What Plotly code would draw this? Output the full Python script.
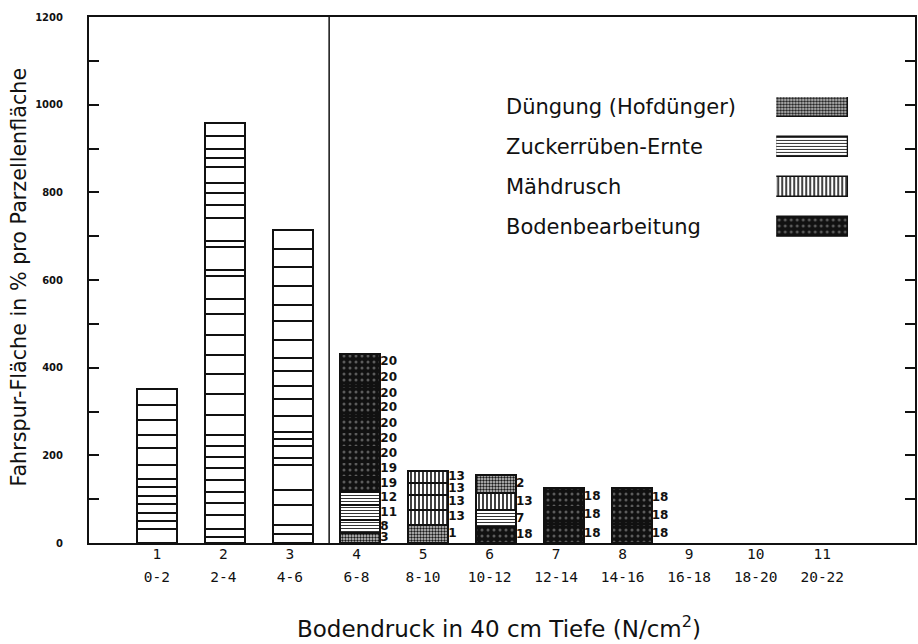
import plotly.graph_objects as go

# Soil-pressure classes (N/cm2 in 40 cm depth)
class_no = [1, 2, 3, 4, 5, 6, 7, 8, 9, 10, 11]
class_range = ["0-2", "2-4", "4-6", "6-8", "8-10", "10-12",
               "12-14", "14-16", "16-18", "18-20", "20-22"]

# Wheel-track area of the single passes (% of plot area), classes 1-3
passes_1 = [31, 19, 19, 20, 19, 19, 18, 33, 38, 30, 35, 34, 36]
passes_2 = [14, 17, 33, 27, 26, 27, 28, 25, 24, 25, 45, 49, 45, 45, 45,
            47, 34, 52, 15, 53, 14, 51, 30, 27, 23, 36, 22, 21, 29, 29]
passes_3 = [21, 20, 46, 33, 57, 18, 26, 16, 17, 36, 38, 30, 35, 30, 39,
            44, 36, 45, 42, 42, 43]

# Classes 4-8: area per pass, kind of operation, machine number
area_4 = [22, 30, 35, 30, 34, 34, 35, 34, 36, 34, 34, 35, 38]
kind_4 = ["dung", "zucker", "zucker", "zucker", "boden", "boden", "boden",
          "boden", "boden", "boden", "boden", "boden", "boden"]
ids_4 = ["3", "8", "11", "12", "19", "19", "20", "20", "20", "20", "20", "20", "20"]

area_5 = [41, 35, 34, 27, 28]
kind_5 = ["dung", "maeh", "maeh", "maeh", "maeh"]
ids_5 = ["1", "13", "13", "13", "13"]

area_6 = [36, 39, 38, 42]
kind_6 = ["boden", "zucker", "maeh", "dung"]
ids_6 = ["18", "7", "13", "2"]

area_7 = [43, 40, 43]
kind_7 = ["boden", "boden", "boden"]
ids_7 = ["18", "18", "18"]

area_8 = [43, 38, 44]
kind_8 = ["boden", "boden", "boden"]
ids_8 = ["18", "18", "18"]

# Operations, in legend order
kinds = ["dung", "zucker", "maeh", "boden"]
kind_names = ["Düngung (Hofdünger)", "Zuckerrüben-Ernte", "Mähdrusch", "Bodenbearbeitung"]

BAR_W = 0.59
INK = "#111111"

fills = {
    "dung": dict(color="#cfcfcf",
                 pattern=dict(shape=".", fgcolor="#1a1a1a", bgcolor="#cfcfcf",
                              size=3, solidity=0.5, fillmode="replace")),
    "zucker": dict(color="white",
                   pattern=dict(shape="-", fgcolor="#333333", bgcolor="white",
                                size=3, solidity=0.35, fillmode="replace")),
    "maeh": dict(color="white",
                 pattern=dict(shape="|", fgcolor=INK, bgcolor="white",
                              size=4, solidity=0.4, fillmode="replace")),
    "boden": dict(color=INK,
                  pattern=dict(shape=".", fgcolor="#5c5c5c", bgcolor=INK,
                               size=6, solidity=0.2, fillmode="replace")),
}

fig = go.Figure()

# Plain passes (classes 1-3): white boxes stacked from their own areas
px_, py_, pb_ = [], [], []
for cls, passes in zip(class_no[:3], [passes_1, passes_2, passes_3]):
    bottom = 0
    for a in passes:
        px_.append(cls)
        py_.append(a)
        pb_.append(bottom)
        bottom += a
fig.add_trace(go.Bar(x=px_, y=py_, base=pb_, width=BAR_W,
                     marker=dict(color="white", line=dict(color=INK, width=2)),
                     showlegend=False, hoverinfo="skip"))

# Operation passes (classes 4-8), one trace per kind of operation
seg = {k: dict(x=[], y=[], base=[]) for k in kinds}
lab_x, lab_y, lab_t = [], [], []
for cls, areas, knds, ids in zip(class_no[3:8],
                                 [area_4, area_5, area_6, area_7, area_8],
                                 [kind_4, kind_5, kind_6, kind_7, kind_8],
                                 [ids_4, ids_5, ids_6, ids_7, ids_8]):
    bottom = 0
    for a, k, t in zip(areas, knds, ids):
        seg[k]["x"].append(cls)
        seg[k]["y"].append(a)
        seg[k]["base"].append(bottom)
        lab_x.append(cls + BAR_W / 2)
        lab_y.append(bottom + a / 2)
        lab_t.append(t)
        bottom += a

for k in kinds:
    fig.add_trace(go.Bar(x=seg[k]["x"], y=seg[k]["y"], base=seg[k]["base"],
                         width=BAR_W,
                         marker=dict(line=dict(color=INK, width=2), **fills[k]),
                         showlegend=False, hoverinfo="skip"))

# Machine numbers beside each pass
fig.add_trace(go.Scatter(x=lab_x, y=lab_y, text=lab_t, mode="text",
                         textposition="middle right",
                         textfont=dict(family="DejaVu Sans", size=12, color=INK,
                                       weight="bold"),
                         showlegend=False, hoverinfo="skip"))

# Empty traces so the two label axes (class number, pressure range) are drawn
for ax in ["x2", "x3"]:
    fig.add_trace(go.Scatter(x=[], y=[], xaxis=ax, yaxis="y", mode="markers",
                             showlegend=False, hoverinfo="skip"))

# Key: one swatch per operation in a small inset axis
for i, k in enumerate(kinds):
    fig.add_trace(go.Bar(x=[1], y=[i], orientation="h", width=0.5,
                         xaxis="x4", yaxis="y4",
                         marker=dict(line=dict(color=INK, width=1.5), **fills[k]),
                         showlegend=False, hoverinfo="skip"))

annotations = []
for i, name in enumerate(kind_names):
    annotations.append(dict(text=name, x=0.502, xref="paper", xanchor="left",
                            y=i, yref="y4", yanchor="middle", showarrow=False,
                            font=dict(family="DejaVu Sans", size=21, color=INK)))

annotations.append(dict(text="Fahrspur-Fläche in % pro Parzellenfläche",
                        textangle=-90, x=-0.0845, xref="paper", xanchor="center",
                        y=0.505, yref="paper", yanchor="middle", showarrow=False,
                        font=dict(family="DejaVu Sans", size=20.7, color=INK)))
annotations.append(dict(text="Bodendruck in 40 cm Tiefe (N/cm<sup>2</sup>)",
                        x=0.496, xref="paper", xanchor="center",
                        y=-0.16, yref="paper", yanchor="middle", showarrow=False,
                        font=dict(family="DejaVu Sans", size=23, color=INK)))

tick_font = dict(family="DejaVu Sans Mono", size=14.5, color=INK)
lab_range = [-0.02, -0.02 + 828 / 66.7]

fig.update_layout(
    width=918, height=644,
    margin=dict(l=89, r=1, t=17, b=101),
    paper_bgcolor="white", plot_bgcolor="white",
    barmode="overlay",
    bargap=0,
    annotations=annotations,
    # Separator between the low-pressure classes and the rest
    shapes=[dict(type="line", xref="x", yref="y", x0=3.54, x1=3.54, y0=0, y1=1200,
                 line=dict(color=INK, width=1.5))],
    xaxis=dict(range=[0, 828 / 68], showline=True, linewidth=2, linecolor=INK,
               mirror=True, ticks="", showticklabels=False, showgrid=False,
               zeroline=False),
    xaxis2=dict(overlaying="x", anchor="y", side="bottom", range=lab_range,
                tickmode="array", tickvals=class_no,
                ticktext=[str(c) for c in class_no], ticks="",
                showline=False, showgrid=False, zeroline=False,
                tickfont=tick_font, ticklabelstandoff=0),
    xaxis3=dict(overlaying="x", anchor="y", side="bottom", range=lab_range,
                tickmode="array", tickvals=class_no, ticktext=class_range,
                ticks="", showline=False, showgrid=False, zeroline=False,
                tickfont=tick_font, ticklabelstandoff=23),
    yaxis=dict(range=[0, 1200], tickmode="linear", tick0=0, dtick=200,
               ticks="inside", ticklen=10, tickwidth=1.5, tickcolor=INK,
               minor=dict(ticks="inside", ticklen=10, tickwidth=1.5, dtick=100,
                          tickcolor=INK, showgrid=False),
               showline=True, linewidth=2, linecolor=INK, mirror="allticks",
               showgrid=False, zeroline=False, ticklabelstandoff=22,
               tickfont=dict(family="DejaVu Sans", size=10, color=INK, weight="bold")),
    xaxis4=dict(domain=[0.832, 0.919], anchor="y4", range=[0, 1], visible=False),
    yaxis4=dict(domain=[0.582, 0.848], anchor="x4", range=[3.25, -0.25],
                visible=False),
)

fig.write_html("out.html")
